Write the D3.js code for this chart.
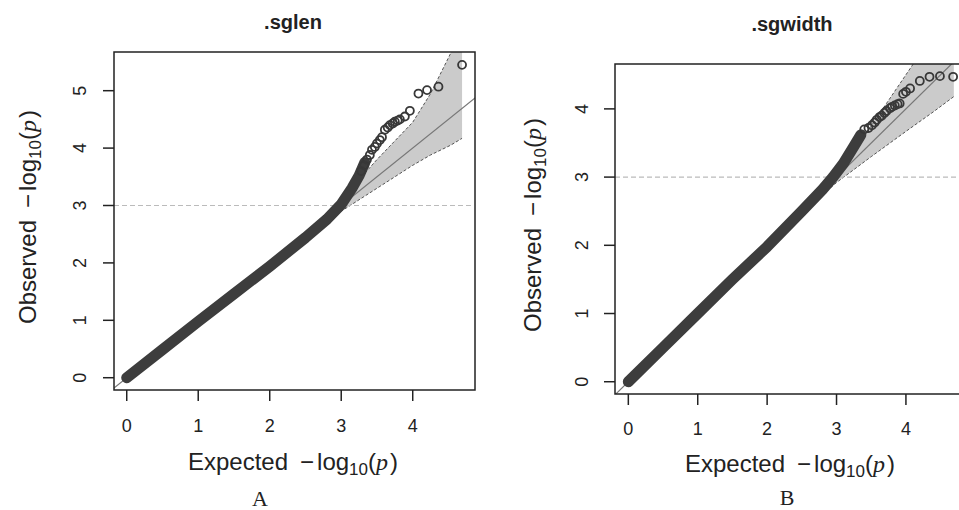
<!DOCTYPE html>
<html>
<head>
<meta charset="utf-8">
<script src="https://cdn.jsdelivr.net/npm/d3@7"></script>
<style>
body { margin: 0; background: #fff; }
text { font-family: "Liberation Sans", Arial, sans-serif; fill: #222; }
</style>
</head>
<body>
<svg id="chart" width="959" height="510"></svg>
<script>
// --- data (expected vs observed -log10 p) ---

// .sglen : overplotted part of the QQ cloud
const sglenBandExp = [0, 0.5, 1.0, 1.5, 2.0, 2.5, 2.8, 3.0, 3.15, 3.25, 3.33];
const sglenBandObs = [0, 0.49, 0.98, 1.46, 1.94, 2.44, 2.76, 3.02, 3.30, 3.52, 3.75];
// .sglen : single points in the tail
const sglenTailExp = [3.28, 3.32, 3.36, 3.40, 3.43, 3.47, 3.50, 3.54, 3.57, 3.61, 3.65, 3.68, 3.72, 3.75, 3.79, 3.82, 3.89, 3.96, 4.08, 4.20, 4.36, 4.69];
const sglenTailObs = [3.60, 3.70, 3.80, 3.88, 3.97, 4.02, 4.08, 4.14, 4.19, 4.32, 4.36, 4.40, 4.43, 4.46, 4.48, 4.50, 4.55, 4.65, 4.95, 5.01, 5.07, 5.45];
// .sglen : confidence band
const sglenCiExp = [2.7, 3.0, 3.5, 4.0, 4.25, 4.53, 4.69];
const sglenCiUpper = [2.75, 3.1, 3.8, 4.45, 4.95, 5.65, 6.0];
const sglenCiLower = [2.65, 2.9, 3.3, 3.7, 3.88, 4.05, 4.17];

// .sgwidth
const sgwidthBandExp = [0, 0.5, 1.0, 1.5, 2.0, 2.5, 2.8, 2.95, 3.1, 3.25, 3.35];
const sgwidthBandObs = [0, 0.5, 1.0, 1.5, 1.98, 2.5, 2.82, 3.0, 3.2, 3.45, 3.62];
const sgwidthTailExp = [3.40, 3.46, 3.51, 3.55, 3.58, 3.62, 3.65, 3.69, 3.72, 3.77, 3.80, 3.84, 3.88, 3.91, 3.96, 4.00, 4.06, 4.20, 4.34, 4.49, 4.68];
const sgwidthTailObs = [3.70, 3.72, 3.76, 3.80, 3.84, 3.88, 3.90, 3.94, 3.97, 4.01, 4.03, 4.05, 4.07, 4.08, 4.22, 4.25, 4.30, 4.41, 4.47, 4.48, 4.47];
const sgwidthCiExp = [2.7, 3.0, 3.5, 4.0, 4.4, 4.69];
const sgwidthCiUpper = [2.75, 3.05, 3.75, 4.5, 5.1, 5.5];
const sgwidthCiLower = [2.65, 2.92, 3.3, 3.67, 3.96, 4.18];

const xTickValues = [0, 1, 2, 3, 4];
const sglenYTicks = [0, 1, 2, 3, 4, 5];
const sgwidthYTicks = [0, 1, 2, 3, 4];
const threshold = 3;

const svg = d3.select("#chart");

const panels = [
  {
    id: "sglen", title: ".sglen", letter: "A",
    band: d3.zip(sglenBandExp, sglenBandObs),
    tail: d3.zip(sglenTailExp, sglenTailObs),
    ciUp: d3.zip(sglenCiExp, sglenCiUpper),
    ciLo: d3.zip(sglenCiExp, sglenCiLower),
    yTicks: sglenYTicks,
    x: d3.scaleLinear().domain([-0.178, 4.871]).range([114, 475]),
    y: d3.scaleLinear().domain([-0.214, 5.674]).range([390, 52]),
    titleAt: [293, 29], xTickY: 432, xLabAt: [293, 470], letterAt: [260, 506],
    yTickX: 86, yLabAt: [36, 217]
  },
  {
    id: "sgwidth", title: ".sgwidth", letter: "B",
    band: d3.zip(sgwidthBandExp, sgwidthBandObs),
    tail: d3.zip(sgwidthTailExp, sgwidthTailObs),
    ciUp: d3.zip(sgwidthCiExp, sgwidthCiUpper),
    ciLo: d3.zip(sgwidthCiExp, sgwidthCiLower),
    yTicks: sgwidthYTicks,
    x: d3.scaleLinear().domain([-0.192, 4.88]).range([615, 967]),
    y: d3.scaleLinear().domain([-0.18, 4.658]).range([394, 64]),
    titleAt: [792, 31], xTickY: 435, xLabAt: [790, 472], letterAt: [787, 505],
    yTickX: 588, yLabAt: [541, 225]
  }
];

// writes "Label  −log10(p)" the way R plotmath does
function logLabel(sel, word) {
  sel.append("tspan").text(word);
  sel.append("tspan").attr("dx", 12).text("\u2212");
  sel.append("tspan").attr("dx", 3).text("log");
  sel.append("tspan").attr("font-size", 17).attr("dy", 5).text("10");
  sel.append("tspan").attr("dy", -5).text("(");
  sel.append("tspan").attr("font-style", "italic").attr("font-family", "Liberation Serif, serif").text("p");
  sel.append("tspan").attr("dx", 2).text(")");
}

panels.forEach(p => {
  const g = svg.append("g").attr("class", p.id);
  const [x0, x1] = p.x.range();
  const [y0, y1] = p.y.range();

  g.append("clipPath").attr("id", "clip-" + p.id)
    .append("rect")
    .attr("x", x0).attr("y", y1)
    .attr("width", x1 - x0).attr("height", y0 - y1);

  const plot = g.append("g").attr("clip-path", `url(#clip-${p.id})`);

  // confidence polygon
  const poly = p.ciUp.concat(p.ciLo.slice().reverse());
  plot.append("path")
    .attr("d", d3.line().x(d => p.x(d[0])).y(d => p.y(d[1]))(poly) + "Z")
    .attr("fill", "#cbcbcb")
    .attr("stroke", "none");
  [p.ciUp, p.ciLo].forEach(edge => {
    plot.append("path")
      .attr("d", d3.line().x(d => p.x(d[0])).y(d => p.y(d[1]))(edge))
      .attr("fill", "none")
      .attr("stroke", "#555")
      .attr("stroke-width", 1)
      .attr("stroke-dasharray", "3,2");
  });

  // y = x reference
  plot.append("line")
    .attr("x1", p.x(-1)).attr("y1", p.y(-1))
    .attr("x2", p.x(8)).attr("y2", p.y(8))
    .attr("stroke", "#777").attr("stroke-width", 1.2);

  // threshold line
  plot.append("line")
    .attr("x1", x0).attr("x2", x1 - 4)
    .attr("y1", p.y(threshold)).attr("y2", p.y(threshold))
    .attr("stroke", "#bbb").attr("stroke-width", 1.2)
    .attr("stroke-dasharray", "5,3");

  // overplotted cloud
  plot.append("path")
    .attr("d", d3.line().x(d => p.x(d[0])).y(d => p.y(d[1]))(p.band))
    .attr("fill", "none")
    .attr("stroke", "#3d3d3d")
    .attr("stroke-width", 11)
    .attr("stroke-linecap", "round")
    .attr("stroke-linejoin", "round");

  plot.selectAll("circle.pt")
    .data(p.tail)
    .enter()
    .append("circle")
    .attr("class", "pt")
    .attr("cx", d => p.x(d[0]))
    .attr("cy", d => p.y(d[1]))
    .attr("r", 4)
    .attr("fill", "none")
    .attr("stroke", "#383838")
    .attr("stroke-width", 1.8);

  // box
  g.append("rect")
    .attr("x", x0).attr("y", y1)
    .attr("width", x1 - x0).attr("height", y0 - y1)
    .attr("fill", "none").attr("stroke", "#222").attr("stroke-width", 1.5);

  // x axis
  g.selectAll("line.xt").data(xTickValues).enter().append("line")
    .attr("x1", d => p.x(d)).attr("x2", d => p.x(d))
    .attr("y1", y0).attr("y2", y0 + 11)
    .attr("stroke", "#222").attr("stroke-width", 1.5);
  g.selectAll("text.xt").data(xTickValues).enter().append("text")
    .attr("x", d => p.x(d)).attr("y", p.xTickY)
    .attr("text-anchor", "middle").attr("font-size", 18)
    .text(d => d);

  // y axis
  g.selectAll("line.yt").data(p.yTicks).enter().append("line")
    .attr("x1", x0 - 11).attr("x2", x0)
    .attr("y1", d => p.y(d)).attr("y2", d => p.y(d))
    .attr("stroke", "#222").attr("stroke-width", 1.5);
  g.selectAll("text.yt").data(p.yTicks).enter().append("text")
    .attr("transform", d => `translate(${p.yTickX},${p.y(d)}) rotate(-90)`)
    .attr("text-anchor", "middle").attr("font-size", 18)
    .text(d => d);

  // titles
  g.append("text")
    .attr("x", p.titleAt[0]).attr("y", p.titleAt[1])
    .attr("text-anchor", "middle").attr("font-size", 20).attr("font-weight", "bold")
    .text(p.title);

  g.append("text")
    .attr("x", p.xLabAt[0]).attr("y", p.xLabAt[1])
    .attr("text-anchor", "middle").attr("font-size", 24)
    .call(logLabel, "Expected");

  g.append("text")
    .attr("transform", `translate(${p.yLabAt[0]},${p.yLabAt[1]}) rotate(-90)`)
    .attr("text-anchor", "middle").attr("font-size", 24)
    .call(logLabel, "Observed");

  g.append("text")
    .attr("x", p.letterAt[0]).attr("y", p.letterAt[1])
    .attr("text-anchor", "middle").attr("font-size", 22)
    .style("font-family", "'Liberation Serif', 'Times New Roman', serif")
    .text(p.letter);
});
</script>
</body>
</html>
